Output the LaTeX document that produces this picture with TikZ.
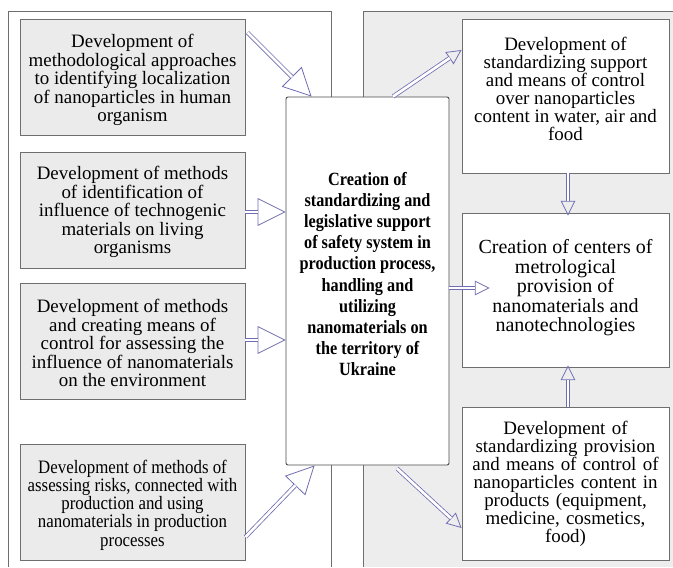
\documentclass[tikz,border=0pt]{standalone}
\usepackage{fontspec}
\setmainfont{Liberation Serif}
\newfontfamily\cfont[FakeStretch=0.87]{Liberation Serif}
\newfontfamily\nfont[FakeStretch=0.89]{Liberation Serif}
\usetikzlibrary{arrows.meta,calc}
\definecolor{arr}{RGB}{112,110,178}
\definecolor{bord}{RGB}{110,110,110}
\definecolor{boxfill}{RGB}{235,235,235}
\definecolor{panel}{RGB}{237,237,237}
\newcommand\dblarrow[3]{%
  \draw[arr, line width=0.6pt, -{Triangle[open,length=#1,width=#1]}] #2 -- #3;
  \draw[arr, line width=0.6pt, double=white, double distance=2pt, shorten >=#1-0.3pt] #2 -- #3;}
\begin{document}
\begin{tikzpicture}[x=0.75pt,y=-0.75pt,
  lbox/.style={draw=bord, fill=boxfill, line width=0.7pt, minimum width=168.75pt,
    minimum height=87pt, text width=166pt, align=center, inner sep=0pt,
    font=\fontsize{14.2}{13.9}\selectfont},
  rbox/.style={draw=bord, fill=white, line width=0.7pt, minimum width=155.25pt,
    text width=152pt, align=center, inner sep=0pt,
    font=\fontsize{14.2}{13.5}\selectfont},
  plaintext/.style={align=center, inner sep=0pt}]
\useasboundingbox (0,0) rectangle (673,567);
\fill[white] (0,0) rectangle (673,567);
\fill[panel] (363,11) rectangle (673,567);
\draw[bord, line width=0.7pt] (363,567) -- (363,11) -- (673,11);
\draw[bord, line width=0.7pt, fill=white] (8,567) -- (8,11) -- (331,11) -- (331,567);

\node[lbox] (B1) at (132.5,77) {};
\node[plaintext, font=\fontsize{14.2}{13.9}\selectfont] (B1t) at (132.5,80) {Development of\\methodological approaches\\to identifying localization\\of nanoparticles in human\\organism};
\node[lbox] (B2) at (132.5,210) {};
\node[plaintext, font=\fontsize{14.2}{13.9}\selectfont] (B2t) at (132.5,212) {Development of methods\\of identification of\\influence of technogenic\\materials on living\\organisms};
\node[lbox] (B3) at (132.5,341) {};
\node[plaintext, font=\fontsize{14.2}{13.9}\selectfont] (B3t) at (132.5,343) {Development of methods\\and creating means of\\control for assessing the\\influence of nanomaterials\\on the environment};
\node[lbox] (B4) at (132.5,502) {};
\node[plaintext, font=\nfont\fontsize{14.2}{13.7}\selectfont] (B4t) at (132.5,505) {Development of methods of\\assessing risks, connected with\\production and using\\nanomaterials in production\\processes};

\node[draw=black!70, fill=white, line width=0.7pt, rounded corners=1.5pt,
  minimum width=122.25pt, minimum height=276pt, inner sep=0pt] (C) at (367.5,281) {};
\node[plaintext, font=\cfont\bfseries\fontsize{14}{15.8}\selectfont] (Ct) at (367.5,274)
  {Creation of\\standardizing and\\legislative support\\of safety system in\\production process,\\handling and\\utilizing\\nanomaterials on\\the territory of\\Ukraine};

\node[rbox, minimum height=115.5pt] (R1) at (565.5,96) {};
\node[plaintext, font=\fontsize{14.2}{13.5}\selectfont] (R1t) at (565.5,89)
  {Development of\\standardizing support\\and means of control\\over nanoparticles\\content in water, air and\\food};
\node[rbox, minimum height=115.5pt] (R2) at (565.5,290) {};
\node[plaintext, font=\fontsize{15}{14.6}\selectfont] (R2t) at (565.5,288)
  {Creation of centers of\\metrological\\provision of\\nanomaterials and\\nanotechnologies};
\node[rbox, minimum height=114.75pt] (R3) at (565.5,483.5)
  {Development of\\standardizing provision\\and means of control of\\nanoparticles content in\\products (equipment,\\medicine, cosmetics,\\food)};

\dblarrow{21pt}{($(B1.north east)+(2,14)$)}{($(C.north west)+(26,0)$)}
\dblarrow{21pt}{($(B2.east)+(0,2)$)}{($(C.west|-B2.east)+(0,2)$)}
\dblarrow{21pt}{($(B3.east)+(0,-1)$)}{($(C.west|-B3.east)+(0,-1)$)}
\dblarrow{21pt}{($(B4.east)+(0,35)$)}{($(C.south west)+(29,0)$)}
\dblarrow{11pt}{($(C.north)+(25.5,0)$)}{($(R1.west)+(0,-46)$)}
\dblarrow{11pt}{($(R1.south)+(2.5,0)$)}{($(R2.north)+(2.5,3)$)}
\dblarrow{11pt}{($(C.east)+(0,7)$)}{($(R2.west)+(28,-2)$)}
\dblarrow{11pt}{($(R3.north)+(2.5,0)$)}{($(R2.south)+(2.5,-2)$)}
\dblarrow{11pt}{($(C.south)+(29.5,3)$)}{($(R3.west)+(0,44.5)$)}
\end{tikzpicture}
\end{document}
